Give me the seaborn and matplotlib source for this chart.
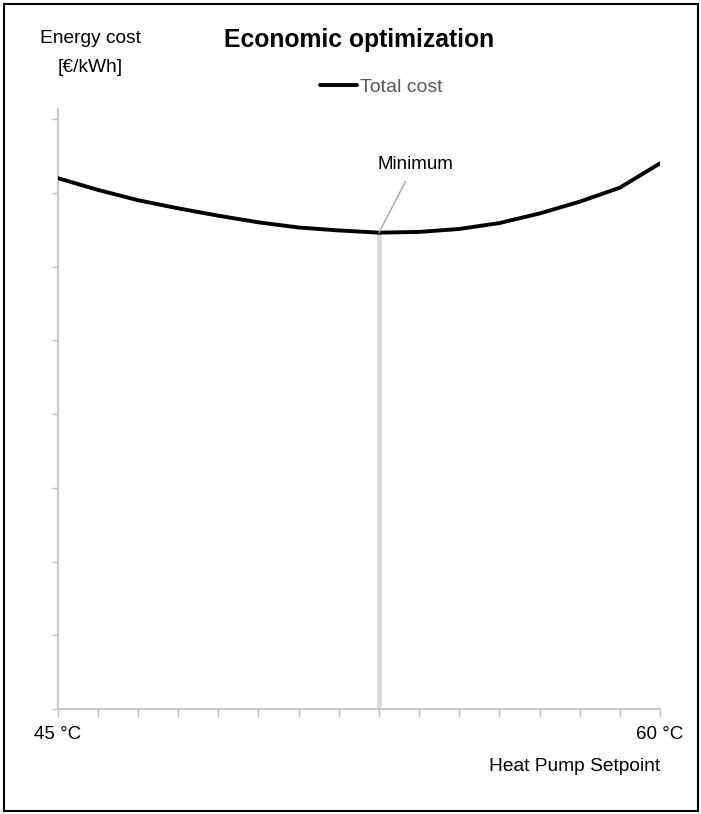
import matplotlib as mpl
import matplotlib.pyplot as plt
import seaborn as sns
import pandas as pd
import numpy as np
from matplotlib.patches import Rectangle

# Data
setpoints = [45, 46, 47, 48, 49, 50, 51, 52, 53, 54, 55, 56, 57, 58, 59, 60]
total_cost = [7.20, 7.04, 6.90, 6.79, 6.69, 6.60, 6.53, 6.49, 6.46, 6.47,
              6.51, 6.59, 6.72, 6.88, 7.07, 7.40]
y_ticks = [0, 1, 2, 3, 4, 5, 6, 7, 8]
tick_labels = {45: "45 °C", 60: "60 °C"}

sns.set_style("ticks")
plt.rcParams['font.family'] = ['Liberation Sans', 'DejaVu Sans']
COLOR = 'black'
mpl.rcParams['text.color'] = COLOR
mpl.rcParams['axes.labelcolor'] = COLOR
mpl.rcParams['xtick.labelcolor'] = COLOR

GREY_AXIS = '#bfbfbf'
font_size = 13.8

df = pd.DataFrame({"Setpoint": setpoints, "Total cost": total_cost})

fig = plt.figure(figsize=(7.01, 8.14), dpi=100)
ax = fig.add_axes([0.0823, 0.129, 0.8592, 0.737])

# Bar marking the minimum
i_min = int(np.argmin(df["Total cost"]))
ax.bar(df["Setpoint"][i_min], df["Total cost"][i_min], width=0.17,
       color='#d9d9d9', zorder=1)

# Total cost curve
sns.lineplot(data=df, x="Setpoint", y="Total cost", color='black', lw=2.8,
             ax=ax, label='Total cost', zorder=3)

# Minimum annotation
ax.annotate("Minimum", xy=(df["Setpoint"][i_min], df["Total cost"][i_min]),
            xytext=(53.92, 7.38), ha='center', va='center', fontsize=13.5,
            arrowprops=dict(arrowstyle='-', color='#a6a6a6', lw=1,
                            shrinkA=4, shrinkB=0, relpos=(0.42, 0)))

# Axes
ax.set_xlim(45, 60)
ax.set_ylim(0, 8.136)
ax.set_yticks(y_ticks, [''] * len(y_ticks))
ax.set_xticks(setpoints, [tick_labels.get(s, '') for s in setpoints], fontsize=13.5)
sns.despine(ax=ax)
for side in ['left', 'bottom']:
    ax.spines[side].set_color(GREY_AXIS)
    ax.spines[side].set_linewidth(1.2)
ax.tick_params(axis='x', length=6, width=1, color=GREY_AXIS, pad=6)
ax.tick_params(axis='y', length=4, width=1, color=GREY_AXIS)

ax.set_xlabel("Heat Pump Setpoint", loc='right', fontsize=font_size, labelpad=11)
ax.set_ylabel("")
ax.set_title("Economic optimization", fontsize=17.8, fontweight='bold', pad=45)
fig.text(90 / 701, 1 - 53 / 814, "Energy cost\n[€/kWh]", ha='center', va='center',
         fontsize=font_size, linespacing=1.95)

# Legend
leg = ax.legend(loc='center', bbox_to_anchor=(0.538, 1.037), frameon=False,
                fontsize=14, handlelength=1.9, handletextpad=0.15)
for t in leg.get_texts():
    t.set_color('#595959')

# Frame around the whole figure
fig.patches.append(Rectangle((0.0057, 0.0037), 0.99, 0.9913, transform=fig.transFigure,
                             fill=False, ec='black', lw=1.5))

plt.savefig("out.png", dpi=100)
plt.close()
